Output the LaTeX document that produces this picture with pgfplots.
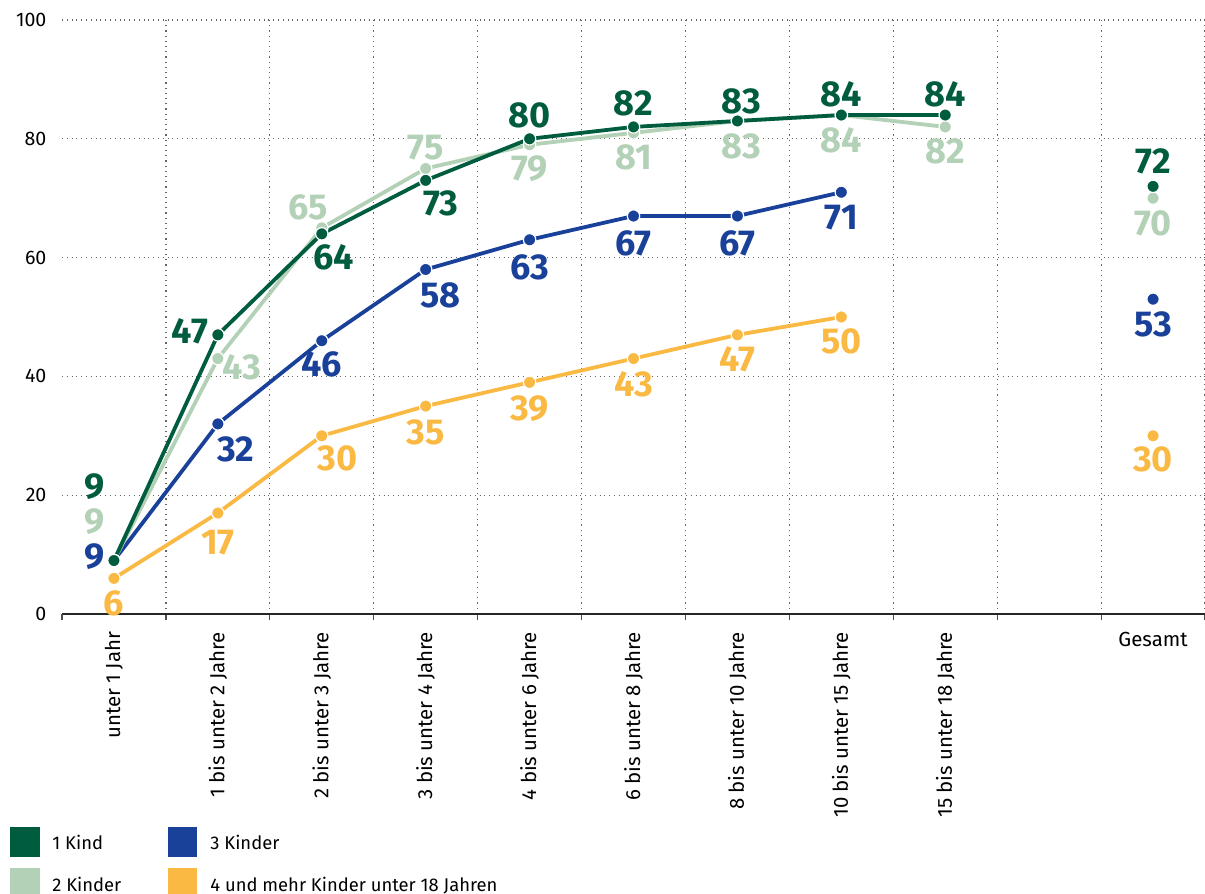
\documentclass[border=0pt]{standalone}
\usepackage{fontspec}
\setmainfont{Fira Sans}
\usepackage{graphicx}
\usepackage{pgfplots}
\usepackage{pgfplotstable}
\pgfplotsset{compat=1.18}
\definecolor{cA}{HTML}{005C3F}
\definecolor{cB}{HTML}{B3D1B6}
\definecolor{cC}{HTML}{1A4199}
\definecolor{cD}{HTML}{F9B942}

\pgfplotstableread{
x y dx dy
0 9 -9.5 37
1 47 -14 2
2 64 6 -11.5
3 73 7.5 -11.5
4 80 0 11.5
5 82 0 12
6 83 2 10
7 84 0 10.5
8 84 0 10.5
9 nan 0 0
10 72 0 12.5
}\dataA
\pgfplotstableread{
x y dx dy
0 9 -9.5 19.5
1 43 12 -4.5
2 65 -7 10.5
3 75 0 10.5
4 79 0 -12
5 81 0 -12.5
6 83 2 -12.5
7 84 0 -12.5
8 82 0 -12
9 nan 0 0
10 70 0 -12.5
}\dataB
\pgfplotstableread{
x y dx dy
0 9 -9.5 2
1 32 9 -12.5
2 46 0 -12
3 58 7.5 -13
4 63 0 -14
5 67 0 -13.5
6 67 0 -13.5
7 71 0 -12.5
8 nan 0 0
10 53 0 -12.5
}\dataC
\pgfplotstableread{
x y dx dy
0 6 0 -12.5
1 17 0 -15
2 30 8 -11.5
3 35 0 -13
4 39 0 -13
5 43 0 -13
6 47 0 -12
7 50 0 -12
8 nan 0 0
10 30 0 -12
}\dataD

\pgfplotsset{
  ser/.style={
    color=#1, line width=1.9pt, mark=*, mark size=3.1pt,
    mark options={draw=white, line width=0.6pt, fill=#1},
    nodes near coords, point meta=explicit symbolic,
    visualization depends on={\thisrow{dx}\as\myDx},
    visualization depends on={\thisrow{dy}\as\myDy},
    every node near coord/.append style={anchor=center, inner sep=0pt,
      xshift=\myDx pt, yshift=\myDy pt, text=#1,
      font=\fontsize{18}{18}\selectfont\bfseries},
  },
}

\begin{document}
\begin{tikzpicture}
\useasboundingbox (-31pt,-140pt) rectangle (571.5pt,307pt);
\begin{axis}[
  scale only axis, width=571.5pt, height=297pt,
  xmin=-0.5, xmax=10.5, ymin=0, ymax=100,
  clip=false,
  unbounded coords=jump,
  axis x line*=bottom, axis y line*=left,
  y axis line style={draw=none},
  x axis line style={draw=black!85, line width=0.6pt, -},
  xtick={0,1,2,3,4,5,6,7,8,10},
  xticklabels={
    \rotatebox{90}{unter 1 Jahr},
    \rotatebox{90}{1 bis unter 2 Jahre},
    \rotatebox{90}{2 bis unter 3 Jahre},
    \rotatebox{90}{3 bis unter 4 Jahre},
    \rotatebox{90}{4 bis unter 6 Jahre},
    \rotatebox{90}{6 bis unter 8 Jahre},
    \rotatebox{90}{8 bis unter 10 Jahre},
    \rotatebox{90}{10 bis unter 15 Jahre},
    \rotatebox{90}{15 bis unter 18 Jahre},
    Gesamt},
  major x tick style={draw=none},
  minor xtick={0.5,1.5,...,10.5},
  xminorgrids,
  minor x tick style={draw=black!70, line width=0.6pt},
  minor tick length=3pt,
  tick align=outside,
  extra x ticks={-0.5},
  extra x tick labels={},
  extra x tick style={grid=none, major tick length=3pt, major x tick style={draw=black!70, line width=0.6pt}},
  xticklabel style={anchor=north, inner sep=0pt, yshift=-4.5pt, font=\fontsize{10.2}{12}\selectfont},
  ytick={0,20,40,60,80,100},
  ymajorgrids,
  major y tick style={draw=none},
  yticklabel style={font=\fontsize{9.8}{11}\selectfont},
  /pgf/number format/assume math mode=true,
  grid style={dotted, black!60, line width=0.6pt},
  minor grid style={dotted, black!60, line width=0.6pt},
]
\addplot[ser=cD] table[x=x, y=y, meta=y] {\dataD};
\addplot[ser=cC] table[x=x, y=y, meta=y] {\dataC};
\addplot[ser=cB] table[x=x, y=y, meta=y] {\dataB};
\addplot[ser=cA] table[x=x, y=y, meta=y] {\dataA};
\end{axis}
% legend
\begin{scope}[font=\fontsize{9.2}{11}\selectfont]
\fill[cA] (-26pt,-121.5pt) rectangle (-11pt,-106.5pt);
\node[anchor=base west, inner sep=0pt] at (-5pt,-117.5pt) {1 Kind};
\fill[cB] (-26pt,-142pt) rectangle (-11pt,-127pt);
\node[anchor=base west, inner sep=0pt] at (-5pt,-138.5pt) {2 Kinder};
\fill[cC] (53pt,-121.5pt) rectangle (67.5pt,-106.5pt);
\node[anchor=base west, inner sep=0pt] at (74pt,-117.5pt) {3 Kinder};
\fill[cD] (53pt,-142pt) rectangle (67.5pt,-127pt);
\node[anchor=base west, inner sep=0pt] at (74pt,-138.5pt) {4 und mehr Kinder unter 18 Jahren};
\end{scope}
\end{tikzpicture}
\end{document}
